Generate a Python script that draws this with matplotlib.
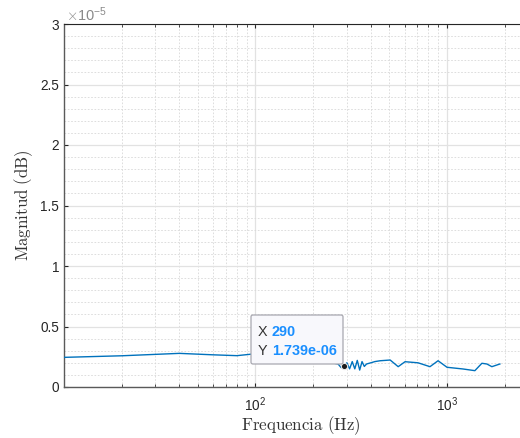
import math
import matplotlib
matplotlib.use("Agg")
import matplotlib.pyplot as plt
from matplotlib.ticker import FuncFormatter, LogLocator, NullFormatter, MultipleLocator
from matplotlib.patches import FancyBboxPatch

plt.rcParams['mathtext.fontset'] = 'cm'

# Data (frequency in Hz, magnitude)
freq = [10, 20, 40, 60, 80, 100, 150, 200, 250, 270, 280, 290, 300, 310, 320, 330, 340,
        350, 360, 370, 380, 400, 420, 448, 505, 556, 604, 706, 815, 898, 1000, 1211,
        1398, 1521, 1616, 1715, 1888]
mag = [2.45e-6, 2.58e-6, 2.78e-6, 2.66e-6, 2.59e-6, 2.75e-6, 2.5e-6, 2.2e-6, 2.0e-6,
       1.9e-6, 1.6e-6, 1.739e-6, 2.0e-6, 1.5e-6, 2.1e-6, 1.5e-6, 2.2e-6,
       1.4e-6, 2.1e-6, 1.7e-6, 1.9e-6, 2.0e-6, 2.1e-6, 2.17e-6, 2.23e-6, 1.68e-6,
       2.09e-6, 2.0e-6, 1.68e-6, 2.17e-6, 1.63e-6, 1.49e-6, 1.35e-6, 1.96e-6,
       1.9e-6, 1.68e-6, 1.9e-6]
tip_x = 290
tip_y = 1.739e-6
yticks = [0, 0.5e-5, 1e-5, 1.5e-5, 2e-5, 2.5e-5, 3e-5]
xticks = [100, 1000]
xlabel = 'Frequencia (Hz)'
ylabel = 'Magnitud (dB)'

W, H = 520, 438
fig = plt.figure(figsize=(W / 100, H / 100), dpi=100)

def fx(x):
    return x / W

def fy(y):
    return 1 - y / H

left, right, top, bottom = 64, 64 + 2.4771 * 191.5, 24, 387
ax = fig.add_axes([fx(left), fy(bottom), (right - left) / W, (bottom - top) / H])
ax.set_xscale('log')
ax.set_xlim(10, 3000)
ax.set_ylim(0, 3e-5)

ax.plot(freq, mag, color='#0072BD', lw=1.0, zorder=3)

tc = '#262626'
ax.set_yticks(yticks)
ax.yaxis.set_major_formatter(FuncFormatter(lambda v, p: '%g' % round(v / 1e-5, 3)))
ax.yaxis.set_minor_locator(MultipleLocator(0.1e-5))
ax.set_xticks(xticks)
ax.xaxis.set_major_formatter(FuncFormatter(lambda v, p: r'$\mathregular{10^{%d}}$' % round(math.log10(v))))
ax.xaxis.set_minor_locator(LogLocator(base=10, subs=range(2, 10)))
ax.xaxis.set_minor_formatter(NullFormatter())

for lab in ax.get_xticklabels() + ax.get_yticklabels():
    lab.set_fontfamily('Liberation Sans')
ax.tick_params(axis='both', which='major', direction='in', labelsize=9.8, colors=tc,
               length=3, width=0.8, top=True, right=False)
ax.tick_params(axis='x', which='minor', direction='in', length=2, width=0.6, colors=tc, top=True)
ax.tick_params(axis='y', which='minor', length=0)
ax.tick_params(axis='x', which='major', pad=6)

ax.grid(True, which='major', color='#e2e2e2', lw=0.9, ls='-', zorder=0)
ax.grid(True, which='minor', color='#d8d8d8', lw=0.6, ls=(0, (2, 2)), zorder=0)
ax.set_axisbelow(True)

for s in ['left', 'bottom']:
    ax.spines[s].set_color('#5a5a5a')
    ax.spines[s].set_linewidth(1.0)
ax.spines['top'].set_color(tc)
ax.spines['top'].set_linewidth(0.8)
ax.spines['right'].set_visible(False)

ax.set_xlabel(r'$\mathrm{%s}$' % xlabel.replace(' ', r'\ '), fontsize=12.2, color='#333333', labelpad=0)
ax.set_ylabel(r'$\mathrm{%s}$' % ylabel.replace(' ', r'\ '), fontsize=12.2, color='#333333', labelpad=4)

fig.text(fx(66), fy(15), r'$\times\mathregular{10^{-5}}$', fontsize=10.5, color='#8a8a8a',
         family='Liberation Sans', va='center', ha='left')

# data tip marker
ax.plot([tip_x], [tip_y], 'o', ms=4.5, mfc='#1a1a1a', mec='#e8e8e8', mew=0.8, zorder=6)

# data tip box
box = FancyBboxPatch((fx(251), fy(364)), (343 - 251) / W, (364 - 315) / H,
                     boxstyle='round,pad=0,rounding_size=0.004', transform=fig.transFigure,
                     facecolor='#f8f8fc', edgecolor='#a8a8b0', lw=0.9, zorder=5)
fig.patches.append(box)
blue = '#1a8fff'
fig.text(fx(258), fy(332), 'X', fontsize=10.4, color='#333333', family='Liberation Sans', va='center', zorder=7)
fig.text(fx(272), fy(332), str(tip_x), fontsize=10.4, color=blue, weight='bold', family='Liberation Sans', va='center', zorder=7)
fig.text(fx(258), fy(351), 'Y', fontsize=10.4, color='#333333', family='Liberation Sans', va='center', zorder=7)
fig.text(fx(272), fy(351), '%.3e' % tip_y, fontsize=10.4, color=blue, weight='bold', family='Liberation Sans', va='center', zorder=7)

fig.savefig('out.png', dpi=100)
